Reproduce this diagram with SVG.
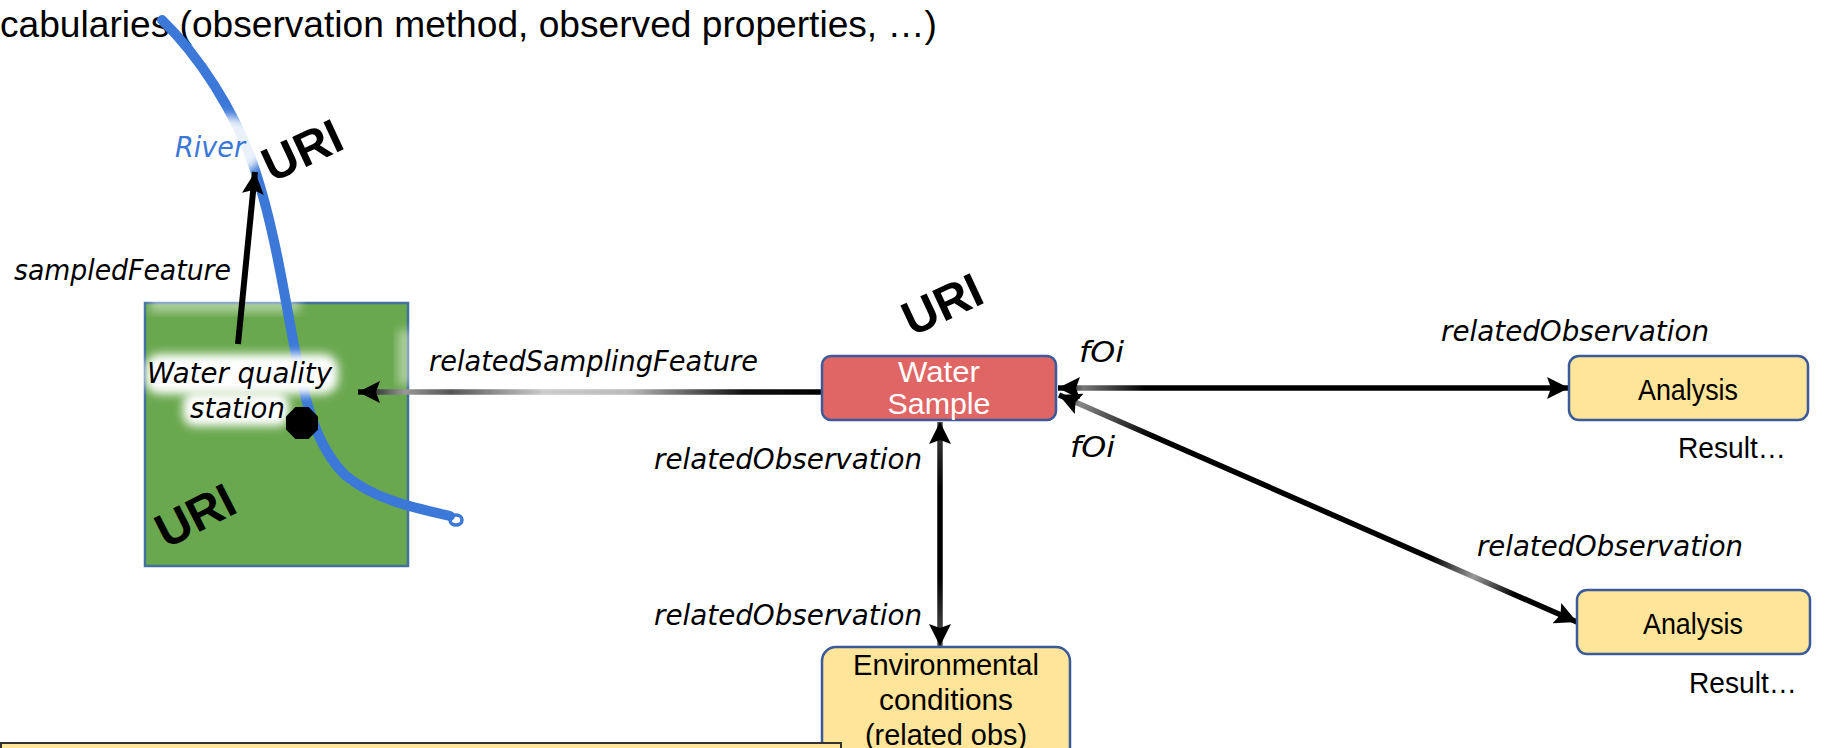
<svg xmlns="http://www.w3.org/2000/svg" width="1829" height="748" viewBox="0 0 1829 748">
<style>
.lbl{font-family:"DejaVu Sans",sans-serif;font-style:italic;font-size:28px;fill:#000}
.uri{font-family:"Liberation Sans",Arial,sans-serif;font-weight:bold;font-size:48px;fill:#000;text-anchor:middle}
.box{stroke:#3a5a9a;stroke-width:2.5}
.btxt{font-family:"Liberation Sans",Arial,sans-serif;font-size:30px;text-anchor:middle;fill:#000}
.conn{fill:none;stroke-width:5.5}
</style>
<defs>
<marker id="ah" markerUnits="userSpaceOnUse" markerWidth="24" markerHeight="22" refX="22" refY="11" orient="auto-start-reverse">
<path d="M0,0 L22,11 L0,22 L4,11 z" fill="#000"/>
</marker>
<filter id="blur" x="-30%" y="-30%" width="160%" height="160%"><feGaussianBlur stdDeviation="5"/></filter>
<linearGradient id="gRSF" gradientUnits="userSpaceOnUse" x1="822" y1="0" x2="358" y2="0">
<stop offset="0" stop-color="#000"/><stop offset="0.17" stop-color="#111"/><stop offset="0.42" stop-color="#bbb"/><stop offset="0.6" stop-color="#ccc"/><stop offset="0.8" stop-color="#555"/><stop offset="0.9" stop-color="#999"/><stop offset="1" stop-color="#000"/>
</linearGradient>
<linearGradient id="gH" gradientUnits="userSpaceOnUse" x1="1058" y1="0" x2="1569" y2="0">
<stop offset="0" stop-color="#000"/><stop offset="0.05" stop-color="#777"/><stop offset="0.17" stop-color="#000"/><stop offset="1" stop-color="#000"/>
</linearGradient>
<linearGradient id="gD" gradientUnits="userSpaceOnUse" x1="1059" y1="395" x2="1577" y2="622">
<stop offset="0" stop-color="#000"/><stop offset="0.04" stop-color="#888"/><stop offset="0.18" stop-color="#000"/><stop offset="0.72" stop-color="#000"/><stop offset="0.8" stop-color="#999"/><stop offset="0.88" stop-color="#000"/><stop offset="1" stop-color="#000"/>
</linearGradient>
<linearGradient id="gV" gradientUnits="userSpaceOnUse" x1="0" y1="422" x2="0" y2="646">
<stop offset="0" stop-color="#444"/><stop offset="0.3" stop-color="#000"/><stop offset="0.7" stop-color="#000"/><stop offset="1" stop-color="#555"/>
</linearGradient>
</defs>
<rect width="1829" height="748" fill="#fff"/>

<text x="0" y="37" font-family="Liberation Sans, Arial, sans-serif" font-size="36" textLength="937" lengthAdjust="spacingAndGlyphs">cabularies (observation method, observed properties, …)</text>

<g id="station-area">
<rect x="145" y="303" width="263" height="263" fill="#6aa84f" stroke="#41719c" stroke-width="2.5"/>
<rect x="150" y="296" width="150" height="16" fill="#fff" opacity="0.45" filter="url(#blur)"/>
<rect x="398" y="330" width="14" height="55" fill="#fff" opacity="0.45" filter="url(#blur)"/>
</g>

<g id="river">
<path d="M162,20 C198,55 235,110 255,170 C275,230 285,300 295,350 C305,400 315,445 345,475 C375,500 415,508 450,516" fill="none" stroke="#3c78d8" stroke-width="10" stroke-linecap="round"/>
<ellipse cx="456" cy="520" rx="6" ry="5" fill="none" stroke="#3c78d8" stroke-width="3.5"/>
<ellipse cx="224" cy="146" rx="42" ry="30" fill="#fff" opacity="0.9" filter="url(#blur)"/>
<text class="lbl" x="175" y="157" font-size="25" textLength="70" lengthAdjust="spacingAndGlyphs" style="fill:#3c78d8">River</text>
<text class="uri" transform="translate(302,150) rotate(-25)" x="0" y="17">URI</text>
</g>

<g id="water-quality-station">
<rect x="145" y="354" width="193" height="40" rx="15" fill="#fff" filter="url(#blur)"/>
<rect x="183" y="392" width="106" height="34" rx="12" fill="#fff" filter="url(#blur)"/>
<polygon points="308.6,407 318,416.4 318,429.6 308.6,439 295.4,439 286,429.6 286,416.4 295.4,407" fill="#000"/>
<text class="lbl" x="147" y="383" textLength="185" lengthAdjust="spacingAndGlyphs">Water quality</text>
<text class="lbl" x="190" y="418" textLength="95" lengthAdjust="spacingAndGlyphs">station</text>
<text class="uri" transform="translate(195,515) rotate(-27)" x="0" y="17">URI</text>
</g>

<g id="connectors">
<line x1="238" y1="344" x2="255" y2="172" stroke="#000" stroke-width="6" marker-end="url(#ah)"/>
<line x1="822" y1="392" x2="358" y2="392" class="conn" stroke="url(#gRSF)" marker-end="url(#ah)"/>
<line x1="1058" y1="388" x2="1569" y2="388" class="conn" stroke="url(#gH)" marker-start="url(#ah)" marker-end="url(#ah)"/>
<line x1="1059" y1="395" x2="1577" y2="622" class="conn" stroke="url(#gD)" marker-start="url(#ah)" marker-end="url(#ah)"/>
<line x1="940" y1="422" x2="940" y2="646" class="conn" stroke="url(#gV)" marker-start="url(#ah)" marker-end="url(#ah)"/>
<text class="lbl" x="14" y="280" textLength="217" lengthAdjust="spacingAndGlyphs">sampledFeature</text>
<text class="lbl" x="429" y="371" textLength="329" lengthAdjust="spacingAndGlyphs">relatedSamplingFeature</text>
<text class="lbl" x="1079" y="362" textLength="45" lengthAdjust="spacingAndGlyphs">fOi</text>
<text class="lbl" x="1070" y="457" textLength="45" lengthAdjust="spacingAndGlyphs">fOi</text>
<text class="lbl" x="1441" y="341" textLength="268" lengthAdjust="spacingAndGlyphs">relatedObservation</text>
<text class="lbl" x="1477" y="556" textLength="266" lengthAdjust="spacingAndGlyphs">relatedObservation</text>
<text class="lbl" x="654" y="469" textLength="268" lengthAdjust="spacingAndGlyphs">relatedObservation</text>
<text class="lbl" x="654" y="625" textLength="268" lengthAdjust="spacingAndGlyphs">relatedObservation</text>
</g>

<g id="water-sample">
<rect class="box" x="822" y="356" width="234" height="64" rx="9" fill="#e06666"/>
<text class="btxt" x="939" y="382" textLength="82" lengthAdjust="spacingAndGlyphs" style="fill:#fff">Water</text>
<text class="btxt" x="939" y="414" textLength="103" lengthAdjust="spacingAndGlyphs" style="fill:#fff">Sample</text>
<text class="uri" transform="translate(942,304) rotate(-25)" x="0" y="17">URI</text>
</g>

<g id="analysis-1">
<rect class="box" x="1569" y="356" width="239" height="64" rx="10" fill="#ffe599"/>
<text class="btxt" x="1688" y="400" textLength="100" lengthAdjust="spacingAndGlyphs">Analysis</text>
<text class="btxt" x="1678" y="458" textLength="108" lengthAdjust="spacingAndGlyphs" style="text-anchor:start">Result…</text>
</g>

<g id="analysis-2">
<rect class="box" x="1577" y="590" width="233" height="64" rx="10" fill="#ffe599"/>
<text class="btxt" x="1693" y="634" textLength="100" lengthAdjust="spacingAndGlyphs">Analysis</text>
<text class="btxt" x="1689" y="693" textLength="108" lengthAdjust="spacingAndGlyphs" style="text-anchor:start">Result…</text>
</g>

<g id="environmental-conditions">
<rect class="box" x="822" y="647" width="248" height="130" rx="14" fill="#ffe599"/>
<text class="btxt" x="946" y="675" textLength="186" lengthAdjust="spacingAndGlyphs">Environmental</text>
<text class="btxt" x="946" y="710" textLength="134" lengthAdjust="spacingAndGlyphs">conditions</text>
<text class="btxt" x="946" y="745" textLength="162" lengthAdjust="spacingAndGlyphs">(related obs)</text>
</g>

<g id="note-box">
<rect x="1" y="743" width="840" height="40" fill="#ffe599" stroke="#333" stroke-width="2"/>
</g>
</svg>
